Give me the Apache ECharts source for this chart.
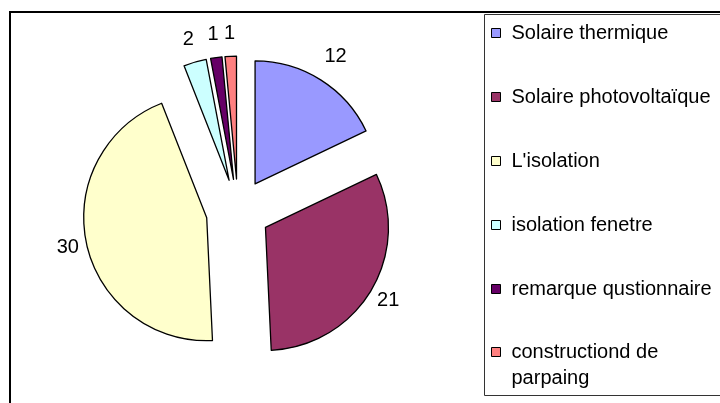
<!DOCTYPE html>
<html><head><meta charset="utf-8">
<script src="https://cdn.jsdelivr.net/npm/echarts@6/dist/echarts.min.js"></script>
<style>html,body{margin:0;padding:0;background:#fff}#c{width:720px;height:403px}</style>
</head><body><div id="c"></div>
<script>
const categories = ["Solaire thermique","Solaire photovoltaïque","L'isolation","isolation fenetre","remarque qustionnaire","constructiond de parpaing"];
const values = [12, 21, 30, 2, 1, 1];
const colors = ['#9999FF','#993366','#FFFFCC','#CCFFFF','#660066','#FF8080'];
const labelGap = [28, 20, 19, 24, 23, 23];

const chart = echarts.init(document.getElementById('c'), null, {renderer:'canvas'});
const font = "'Liberation Sans', Arial, sans-serif";
const data = categories.map((n,i)=>({
  name:n, value:values[i], selected:true, itemStyle:{color:colors[i]},
  labelLine:{show:false, length:labelGap[i], length2:0}
}));
chart.setOption({
  animation:false,
  graphic:[
    {type:'rect', shape:{x:10,y:12,width:720,height:420}, style:{fill:'none', stroke:'#000', lineWidth:2}},
    {type:'rect', shape:{x:484.5,y:14.5,width:240,height:381}, style:{fill:'#fff', stroke:'#333', lineWidth:1}}
  ],
  legend:[{
    orient:'vertical', left:491, top:20, padding:0, itemGap:38,
    itemWidth:9, itemHeight:9, icon:'rect',
    data:categories.slice(0,5),
    itemStyle:{borderColor:'#000', borderWidth:1},
    textStyle:{fontFamily:font, fontSize:20, color:'#000', lineHeight:26, padding:[0,0,0,6]}
  },{
    orient:'vertical', left:491, top:313, padding:0,
    itemWidth:9, itemHeight:9, icon:'rect',
    data:categories.slice(5),
    formatter: n => '\u00a0\nconstructiond de\nparpaing',
    itemStyle:{borderColor:'#000', borderWidth:1},
    textStyle:{fontFamily:font, fontSize:20, color:'#000', lineHeight:26, padding:[0,0,0,6]}
  }],
  series:[{
    type:'pie', center:[238,211], radius:123, startAngle:90, clockwise:true,
    selectedMode:'multiple', selectedOffset:32, avoidLabelOverlap:false,
    itemStyle:{borderColor:'#000', borderWidth:1.3},
    label:{show:true, position:'outside', formatter:'{c}', fontFamily:font, fontSize:20, color:'#000', distanceToLabelLine:0},
    labelLine:{show:false, length:22, length2:0},
    labelLayout:{align:'center', verticalAlign:'middle'},
    emphasis:{disabled:true}, select:{itemStyle:{borderColor:'#000', borderWidth:1.3}},
    data:data
  }]
});
</script></body></html>
